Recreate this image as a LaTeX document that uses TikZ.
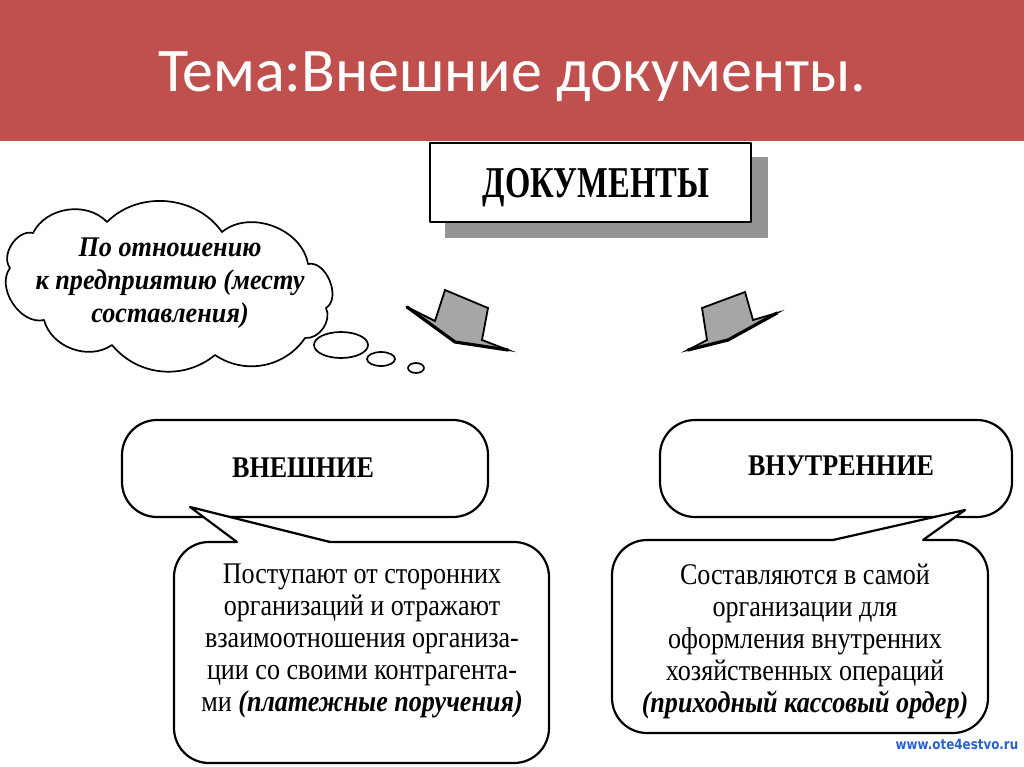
\documentclass[tikz,border=0pt]{standalone}
\usepackage{fontspec}
\setmainfont{Liberation Serif}
\newfontfamily\titlefont{Carlito}
\newfontfamily\scan[FakeStretch=0.87]{Liberation Serif}
\newfontfamily\scanwide[FakeStretch=0.92]{Liberation Serif}
\newfontfamily\scandoc[FakeStretch=0.74]{Liberation Serif}
\newfontfamily\wmfont[FakeStretch=0.85]{DejaVu Sans}
\definecolor{banner}{RGB}{192,80,77}
\definecolor{wmblue}{RGB}{40,95,215}
\tikzset{
  outline/.style={draw=black, line width=2.2pt, line join=round, line cap=round},
  roundbox/.style={outline, fill=white, rounded corners=35pt, inner sep=0pt},
  cloudline/.style={draw=black, line width=1.7pt, line join=round},
  blockarrow/.style={draw=black, line width=1.8pt, fill=black!35, line join=miter},
  wingedge/.style={draw=black, line width=3.2pt, line cap=round},
  bodytext/.style={align=center, font=\scan\fontsize{30}{32}\selectfont},
  headtext/.style={font=\scan\bfseries\fontsize{30}{32}\selectfont},
}
\begin{document}
\begin{tikzpicture}[x=1pt,y=-1pt]
\useasboundingbox (0,0) rectangle (1024,767);
% banner
\fill[banner] (0,0) rectangle (1024,141);
\node[text=white, font=\titlefont\fontsize{62}{70}\selectfont, anchor=base, inner sep=0pt] (title) at (512,92) {Тема:Внешние документы.};

% DOCUMENTS box with shadow
\fill[black!42] (445,157) rectangle (768,238);
\node[outline, fill=white, minimum width=321pt, minimum height=79pt, inner sep=0pt] (docs) at (590.5,182.5) {};
\node[font=\scandoc\bfseries\fontsize{44}{44}\selectfont, anchor=base, inner sep=0pt] (docstext) at (596,198) {ДОКУМЕНТЫ};

% cloud
\draw[cloudline, fill=white] (33,233) to[bend left=55] (107,222) to[bend left=50] (222,232)
  to[bend left=60] (308,264) to[bend left=80] (326,308) to[bend left=60] (305,338)
  to[bend left=45] (215,355) to[bend left=45] (112,345) to[bend left=55] (44,320)
  to[bend left=70] (10,268) to[bend left=70] cycle;
\draw[cloudline, fill=white] (341,345) ellipse [x radius=27, y radius=13];
\draw[cloudline, fill=white] (381,359) ellipse [x radius=14, y radius=7];
\draw[cloudline, fill=white] (416,368) ellipse [x radius=8, y radius=5];
\node[align=center, font=\scanwide\bfseries\itshape\fontsize{28.5}{33}\selectfont] (cloudtext) at (170,283)
  {По отношению\\к предприятию (месту\\составления)};

% block arrows
\draw[blockarrow] (407,307) -- (435,321) -- (445,290) -- (488,308) -- (482,340) -- (508,350) -- (455,342) -- cycle;
\draw[wingedge] (407,307) -- (455,342) -- (508,350);
\draw[blockarrow] (777,313) -- (753,320) -- (745,292) -- (702,308) -- (707,340) -- (688,350) -- (728,340) -- cycle;
\draw[wingedge] (777,313) -- (728,340) -- (688,350);

% upper boxes
\node[roundbox, minimum width=366pt, minimum height=97pt] (ext) at (305,468.5) {};
\node[headtext, anchor=base] (exttext) at (303,477) {ВНЕШНИЕ};
\node[roundbox, minimum width=352pt, minimum height=97pt] (int) at (836,468.5) {};
\node[headtext, anchor=base] (inttext) at (841,475) {ВНУТРЕННИЕ};

% lower boxes
\node[roundbox, minimum width=375pt, minimum height=221pt] (extdesc) at (361.5,652.5) {};
\node[roundbox, minimum width=376pt, minimum height=193pt] (intdesc) at (800,636.5) {};

% tails
\fill[white] (238,545) -- (237,542) -- (190,507) -- (330,542) -- (329,545) -- cycle;
\draw[outline] (237,542) -- (190,507) -- (330,542);
\fill[white] (834,543) -- (833,540) -- (965,510) -- (923,540) -- (922,543) -- cycle;
\draw[outline] (833,540) -- (965,510) -- (923,540);

% texts
\node[bodytext] (extbody) at (362,641)
  {Поступают от сторонних\\организаций и отражают\\взаимоотношения организа-\\ции со своими контрагента-\\ми \textbf{\textit{(платежные поручения)}}};
\node[bodytext] (intbody) at (805,641)
  {Составляются в самой\\организации для\\оформления внутренних\\хозяйственных операций\\\textbf{\textit{(приходный кассовый ордер)}}};

% watermark
\node[text=wmblue, font=\wmfont\bfseries\fontsize{14}{14}\selectfont, inner sep=0pt] (wm) at (957,744) {www.ote4estvo.ru};
\end{tikzpicture}
\end{document}
